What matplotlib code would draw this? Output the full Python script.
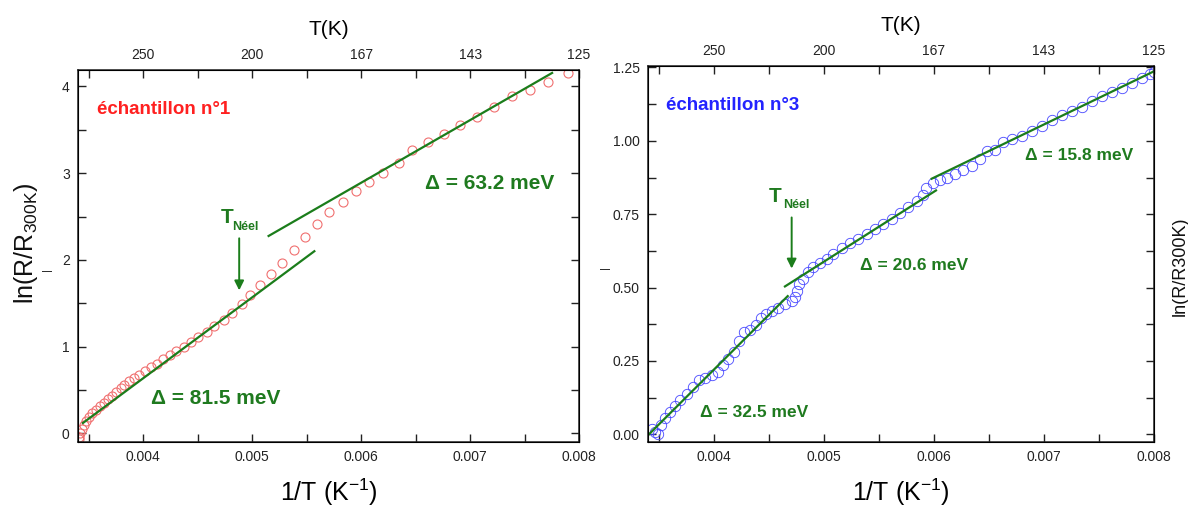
import numpy as np
import matplotlib
matplotlib.use("Agg")
import matplotlib.pyplot as plt
from matplotlib.ticker import MultipleLocator, FormatStrFormatter

plt.rcParams['font.family'] = ['Liberation Sans', 'DejaVu Sans']
plt.rcParams['mathtext.default'] = 'regular'

# sample 1 (red circles)
x1 = [0.003405, 0.003409, 0.003418, 0.003433, 0.003454, 0.003476, 0.003500, 0.003531,
      0.003562, 0.003599, 0.003635, 0.003672, 0.003709, 0.003749, 0.003791, 0.003825,
      0.003868, 0.003914, 0.003960, 0.004016, 0.004068, 0.004123, 0.004184, 0.004243,
      0.004304, 0.004372, 0.004436, 0.004506, 0.004580, 0.004653, 0.004740, 0.004816,
      0.004902, 0.004982, 0.005067, 0.005172, 0.005273, 0.005380, 0.005485, 0.005592,
      0.005708, 0.005831, 0.005948, 0.006070, 0.006199, 0.006343, 0.006469, 0.006616,
      0.006760, 0.006911, 0.007063, 0.007224, 0.007389, 0.007546, 0.007718, 0.007897]
y1 = [-0.07, -0.043, 0.003, 0.050, 0.092, 0.142, 0.188, 0.234,
      0.273, 0.315, 0.354, 0.392, 0.435, 0.476, 0.523, 0.562,
      0.600, 0.642, 0.677, 0.719, 0.765, 0.804, 0.854, 0.900,
      0.946, 0.995, 1.053, 1.111, 1.168, 1.234, 1.311, 1.388,
      1.488, 1.592, 1.707, 1.842, 1.969, 2.119, 2.264, 2.419,
      2.553, 2.668, 2.795, 2.899, 3.007, 3.122, 3.264, 3.360,
      3.457, 3.561, 3.648, 3.764, 3.887, 3.964, 4.052, 4.156]

# sample 3 (blue circles)
x3 = [0.003434, 0.003464, 0.003494, 0.003515, 0.003555, 0.003600, 0.003645, 0.003691,
      0.003752, 0.003812, 0.003866, 0.003918, 0.003979, 0.004039, 0.004085, 0.004130,
      0.004182, 0.004230, 0.004273, 0.004327, 0.004382, 0.004425, 0.004473, 0.004525,
      0.004585, 0.004645, 0.004706, 0.004739, 0.004757, 0.004775, 0.004812, 0.004857,
      0.004903, 0.004964, 0.005025, 0.005085, 0.005161, 0.005236, 0.005312, 0.005388,
      0.005464, 0.005539, 0.005615, 0.005691, 0.005766, 0.005843, 0.005903, 0.005927,
      0.005994, 0.006055, 0.006115, 0.006191, 0.006266, 0.006343, 0.006418, 0.006479,
      0.006555, 0.006630, 0.006706, 0.006797, 0.006888, 0.006979, 0.007070, 0.007161,
      0.007252, 0.007343, 0.007434, 0.007525, 0.007615, 0.007706, 0.007797, 0.007888,
      0.007964, 0.008000]
y3 = [0.019, 0.008, 0.000, 0.031, 0.057, 0.076, 0.095, 0.118,
      0.139, 0.161, 0.184, 0.192, 0.201, 0.212, 0.235, 0.258,
      0.280, 0.318, 0.348, 0.357, 0.371, 0.397, 0.409, 0.419,
      0.432, 0.443, 0.454, 0.468, 0.490, 0.513, 0.530, 0.553,
      0.570, 0.583, 0.598, 0.615, 0.636, 0.652, 0.667, 0.684,
      0.701, 0.718, 0.735, 0.754, 0.774, 0.795, 0.814, 0.840,
      0.856, 0.865, 0.873, 0.886, 0.899, 0.916, 0.939, 0.967,
      0.970, 0.996, 1.005, 1.018, 1.033, 1.049, 1.072, 1.087,
      1.100, 1.117, 1.135, 1.152, 1.166, 1.181, 1.197, 1.215,
      1.229, 1.234]

# fitted segments (end points)
fit1_x = [0.003445, 0.00557]
fit1_y = [0.119, 2.10]
fit2_x = [0.00515, 0.007753]
fit2_y = [2.276, 4.156]
fitA_x = [0.0034, 0.00467]
fitA_y = [-0.003, 0.471]
fitB_x = [0.004645, 0.006018]
fitB_y = [0.504, 0.831]
fitC_x = [0.005979, 0.008]
fitC_y = [0.871, 1.237]

inv_T_ticks = [0.004, 0.005, 0.006, 0.007, 0.008]
T_labels = ['250', '200', '167', '143', '125']

green = '#1b7d1b'
tgreen = '#1f7a1f'

fig = plt.figure(figsize=(11.88, 5.08), dpi=100)
ax1 = fig.add_axes([78/1188, 66/508, 501/1188, 372/508])
ax2 = fig.add_axes([648/1188, 66/508, 506/1188, 376/508])


def style(ax, ylim, ymaj, ymin, yfmt):
    ax.set_xlim(0.0034, 0.008)
    ax.set_ylim(*ylim)
    ax.xaxis.set_major_locator(MultipleLocator(0.001))
    ax.xaxis.set_minor_locator(MultipleLocator(0.0005))
    ax.xaxis.set_major_formatter(FormatStrFormatter('%.3f'))
    ax.yaxis.set_major_locator(MultipleLocator(ymaj))
    ax.yaxis.set_minor_locator(MultipleLocator(ymin))
    ax.yaxis.set_major_formatter(FormatStrFormatter(yfmt))
    ax.tick_params(which='both', direction='in', length=6, width=1,
                   right=True, top=False, labelsize=10, colors='#222222', pad=6)
    for s in ax.spines.values():
        s.set_linewidth(1.1)
        s.set_color('#222222')
    ax.set_xlabel('1/T (K$^{-1}$)', fontsize=18, labelpad=9)
    top = ax.twiny()
    top.set_xlim(ax.get_xlim())
    top.set_xticks(inv_T_ticks)
    top.set_xticklabels(T_labels)
    top.xaxis.set_minor_locator(MultipleLocator(0.0005))
    top.tick_params(which='both', direction='in', length=6, width=1,
                    labelsize=10, colors='#222222', pad=6)
    top.set_xlabel('T(K)', fontsize=15, labelpad=9)
    return top


style(ax1, (-0.1, 4.19), 1, 0.5, '%d')
style(ax2, (-0.026, 1.255), 0.25, 0.125, '%.2f')

# left panel
ax1.plot(x1, y1, 'o', mfc='none', mec='#f07070', ms=6.5, mew=0.8)
ax1.plot(fit1_x, fit1_y, color=green, lw=1.6)
ax1.plot(fit2_x, fit2_y, color=green, lw=1.6)
ax1.text(0.003579, 3.74, 'échantillon n°1', color='#ff2020', fontsize=13.5,
         fontweight='bold', va='center', ha='left')
ax1.text(0.006582, 2.88, 'Δ = 63.2 meV', color=tgreen, fontsize=15,
         fontweight='bold', va='center', ha='left')
ax1.text(0.004071, 0.398, 'Δ = 81.5 meV', color=tgreen, fontsize=15,
         fontweight='bold', va='center', ha='left')
ax1.text(0.004767, 2.486, 'T', color=tgreen, fontsize=15, fontweight='bold',
         va='center', ha='center')
ax1.text(0.004816, 2.382, 'Néel', color=tgreen, fontsize=9, fontweight='bold',
         va='center', ha='left')
ax1.annotate('', xy=(0.00488, 1.649), xytext=(0.00488, 2.249),
             arrowprops=dict(arrowstyle='-|>', color=green, lw=1.4,
                             mutation_scale=14, shrinkA=0, shrinkB=0))

# right panel
ax2.plot(x3, y3, 'o', mfc='none', mec='#4646ff', ms=7.5, mew=0.6)
ax2.plot(fitA_x, fitA_y, color=green, lw=1.6)
ax2.plot(fitB_x, fitB_y, color=green, lw=1.6)
ax2.plot(fitC_x, fitC_y, color=green, lw=1.6)
ax2.text(0.003564, 1.12, 'échantillon n°3', color='#2323ff', fontsize=13.5,
         fontweight='bold', va='center', ha='left')
ax2.text(0.003873, 0.073, 'Δ = 32.5 meV', color=tgreen, fontsize=12.5,
         fontweight='bold', va='center', ha='left')
ax2.text(0.005327, 0.576, 'Δ = 20.6 meV', color=tgreen, fontsize=12.5,
         fontweight='bold', va='center', ha='left')
ax2.text(0.006827, 0.949, 'Δ = 15.8 meV', color=tgreen, fontsize=12.5,
         fontweight='bold', va='center', ha='left')
ax2.text(0.004555, 0.812, 'T', color=tgreen, fontsize=15, fontweight='bold',
         va='center', ha='center')
ax2.text(0.004625, 0.780, 'Néel', color=tgreen, fontsize=9, fontweight='bold',
         va='center', ha='left')
ax2.annotate('', xy=(0.004706, 0.565), xytext=(0.004706, 0.739),
             arrowprops=dict(arrowstyle='-|>', color=green, lw=1.4,
                             mutation_scale=14, shrinkA=0, shrinkB=0))

# y labels
fig.text(26/1188, 1 - 243/508, 'ln(R/R$_{300K}$)', rotation=90, fontsize=18,
         ha='center', va='center', color='#111111')
fig.text(47/1188, 1 - 270/508, '|', rotation=90, fontsize=8,
         ha='center', va='center', color='#111111')
fig.text(605/1188, 1 - 268/508, '|', rotation=90, fontsize=8,
         ha='center', va='center', color='#111111')
fig.text(1180/1188, 1 - 266/508, 'ln(R/R300K)', rotation=90, fontsize=13,
         ha='center', va='center', color='#111111')

fig.savefig('out.png', dpi=100)
